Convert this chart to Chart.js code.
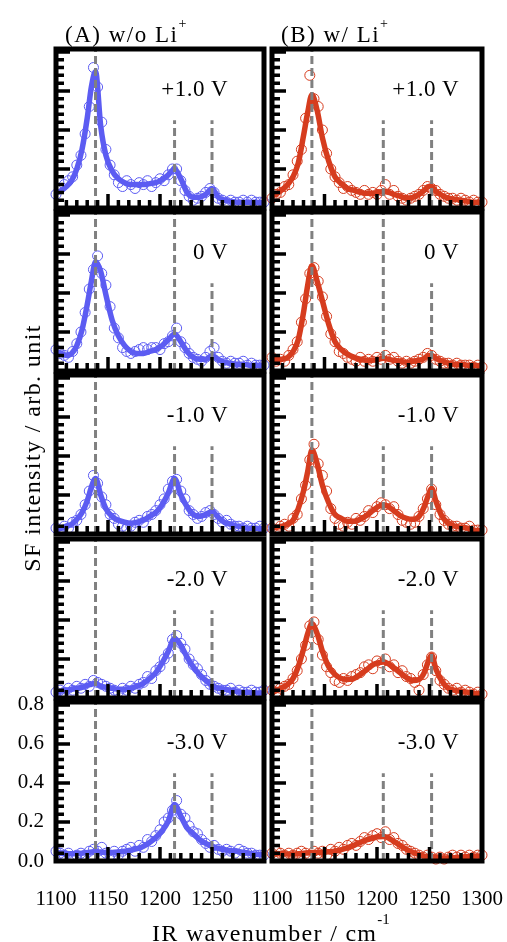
<!DOCTYPE html>
<html>
<head>
<meta charset="utf-8">
<script src="https://cdn.jsdelivr.net/npm/chart.js@4.4.1/dist/chart.umd.min.js"></script>
<style>
  body { margin: 0; background: #fff; }
  #wrap { position: relative; width: 507px; height: 942px; overflow: hidden;
          font-family: 'Liberation Serif', 'Times New Roman', serif; color: #000; }
  #wrap canvas { position: absolute; left: 0; top: 0; }
  .lbl { position: absolute; white-space: nowrap; }
  sup { line-height: 0; }
</style>
</head>
<body>
<div id="wrap"></div>
<script>
// wavenumber grids (cm-1)
const scatterX = [
  1100, 1104, 1108, 1112, 1116, 1120, 1124, 1128, 1132, 1136,
  1140, 1144, 1148, 1152, 1156, 1160, 1164, 1168, 1172, 1176,
  1180, 1184, 1188, 1192, 1196, 1200, 1204, 1208, 1212, 1216,
  1220, 1224, 1228, 1232, 1236, 1240, 1244, 1248, 1252, 1256,
  1260, 1264, 1268, 1272, 1276, 1280, 1284, 1288, 1292, 1296,
  1300
]
const fitXA = [1100, 1105, 1110, 1115, 1120, 1125, 1130, 1134, 1138, 1143, 1148, 1154, 1160, 1166, 1172, 1178, 1184, 1190,
  1196, 1202, 1208, 1214, 1220, 1226, 1232, 1238, 1244, 1250, 1256, 1262, 1268, 1274, 1280, 1286, 1292, 1300]
const fitXB = [1100, 1105, 1110, 1115, 1120, 1125, 1130, 1134, 1138, 1143, 1148, 1154, 1160, 1166, 1172, 1178, 1184, 1190,
  1196, 1201, 1206, 1211, 1216, 1222, 1228, 1234, 1240, 1245, 1249, 1252, 1256, 1262, 1268, 1274, 1280, 1286, 1292, 1300]

const voltLabels = ['+1.0 V', '0 V', '-1.0 V', '-2.0 V', '-3.0 V']
const xTicksA = [1100, 1150, 1200, 1250]
const xTicksB = [1100, 1150, 1200, 1250, 1300]
const yTicks = [0, 0.2, 0.4, 0.6, 0.8]

// peak positions marked by dashed lines, and how high each line reaches
const dashA = [1138, 1214, 1250]
const dashB = [1138, 1206, 1252]
const dashTop = [
  [0.815, 0.45, 0.45],
  [0.815, 0.815, 0.45],
  [0.815, 0.45, 0.45],
  [0.815, 0.45, 0.45],
  [0.815, 0.45, 0.45]
]

// (A) w/o Li+ : fitted curves
const fitA1 = [.075, .09, .11, .14, .20, .30, .46, .62, .70, .42, .27, .19, .15, .13, .12, .12, .12, .125,
  .13, .145, .17, .20, .15, .08, .055, .055, .07, .10, .055, .04, .035, .03, .03, .03, .03, .025]
const fitA2 = [.10, .09, .08, .09, .13, .21, .34, .46, .56, .51, .39, .26, .18, .13, .10, .09, .09, .10,
  .11, .13, .16, .19, .15, .10, .07, .06, .06, .08, .06, .045, .04, .035, .035, .03, .03, .03]
const fitA3 = [.02, .03, .04, .05, .075, .11, .17, .24, .285, .20, .13, .09, .07, .06, .055, .06, .07, .09,
  .11, .15, .21, .285, .20, .14, .10, .09, .10, .115, .085, .06, .05, .04, .035, .03, .03, .025]
const fitA4 = [.03, .035, .04, .045, .05, .055, .065, .07, .075, .06, .055, .05, .045, .045, .05, .06, .075, .10,
  .13, .18, .24, .305, .27, .21, .16, .12, .09, .065, .05, .045, .04, .035, .03, .03, .025, .025]
const fitA5 = [.045, .04, .038, .037, .038, .04, .043, .046, .048, .046, .044, .044, .046, .05, .055, .063, .075, .095,
  .12, .155, .205, .29, .23, .17, .14, .11, .09, .075, .065, .058, .053, .05, .045, .04, .035, .03]

// (B) w/ Li+ : fitted curves
const fitB1 = [.06, .075, .095, .12, .16, .23, .37, .49, .58, .50, .36, .24, .16, .125, .10, .09, .08, .075,
  .075, .08, .085, .08, .07, .06, .05, .055, .07, .09, .11, .11, .085, .065, .05, .045, .04, .035, .03, .03]
const fitB2 = [.065, .06, .06, .07, .10, .16, .30, .44, .54, .46, .36, .24, .15, .11, .085, .07, .06, .055,
  .055, .06, .065, .06, .055, .05, .045, .05, .055, .065, .08, .08, .065, .05, .04, .035, .035, .03, .03, .025]
const fitB3 = [.03, .035, .04, .05, .07, .13, .22, .32, .43, .36, .25, .16, .10, .08, .065, .065, .075, .095,
  .12, .14, .15, .14, .12, .095, .08, .075, .09, .14, .20, .235, .17, .09, .055, .04, .035, .03, .02, .015]
const fitB4 = [.03, .04, .055, .07, .10, .16, .25, .33, .38, .33, .24, .16, .12, .10, .095, .10, .12, .145,
  .17, .18, .185, .175, .155, .13, .105, .09, .095, .13, .19, .22, .15, .085, .05, .04, .035, .03, .025, .02]
const fitB5 = [.04, .038, .037, .036, .036, .037, .04, .041, .043, .044, .045, .047, .05, .058, .068, .08, .095, .108,
  .118, .124, .125, .118, .10, .08, .06, .045, .033, .025, .022, .02, .018, .015, .015, .017, .02, .022, .024, .026]

// measured points
const ptsA1 = [
  .07, .10, .12, .14, .16, .22, .27, .38, .52, .72,
  .62, .44, .30, .22, .17, .13, .11, .14, .12, .10,
  .13, .12, .14, .11, .13, .15, .14, .17, .20, .20,
  .14, .09, .06, .04, .05, .06, .08, .10, .08, .05,
  .04, .03, .04, .03, .03, .04, .03, .04, .03, .03,
  .03]
const ptsA2 = [
  .11, .09, .08, .07, .10, .14, .20, .30, .42, .52,
  .59, .50, .44, .33, .22, .17, .12, .10, .09, .10,
  .11, .12, .11, .12, .12, .11, .14, .15, .18, .22,
  .15, .12, .09, .07, .06, .05, .07, .10, .12, .07,
  .05, .04, .05, .04, .04, .05, .03, .04, .03, .03,
  .03]
const ptsA3 = [
  .03, .02, .04, .03, .06, .07, .10, .15, .22, .30,
  .26, .19, .15, .10, .08, .05, .04, .03, .04, .06,
  .07, .06, .09, .10, .12, .15, .18, .23, .27, .28,
  .22, .18, .12, .10, .08, .09, .11, .12, .10, .08,
  .06, .07, .05, .04, .04, .03, .04, .03, .03, .04,
  .03]
const ptsA4 = [
  .03, .04, .03, .05, .04, .06, .05, .07, .06, .09,
  .08, .07, .06, .05, .04, .03, .05, .04, .06, .05,
  .07, .08, .11, .10, .14, .16, .20, .23, .30, .32,
  .28, .25, .20, .17, .15, .12, .09, .07, .06, .05,
  .04, .04, .05, .03, .04, .03, .03, .04, .03, .03,
  .04]
const ptsA5 = [
  .05, .04, .03, .04, .02, .03, .04, .03, .05, .06,
  .05, .07, .04, .03, .05, .03, .05, .06, .07, .05,
  .08, .07, .11, .10, .13, .16, .20, .22, .26, .31,
  .24, .22, .18, .15, .14, .11, .09, .07, .08, .06,
  .05, .06, .05, .04, .06, .05, .04, .04, .03, .03,
  .03]
const ptsB1 = [
  .05, .07, .08, .11, .12, .17, .24, .30, .46, .68,
  .56, .52, .40, .28, .20, .16, .13, .10, .11, .09,
  .08, .07, .09, .07, .08, .07, .09, .12, .07, .09,
  .06, .05, .04, .05, .06, .07, .09, .11, .10, .09,
  .07, .06, .05, .05, .04, .05, .04, .03, .04, .03,
  .03]
const ptsB2 = [
  .07, .05, .06, .05, .08, .11, .15, .25, .37, .50,
  .53, .46, .38, .28, .19, .15, .10, .09, .07, .06,
  .05, .07, .05, .06, .05, .07, .06, .08, .06, .07,
  .05, .04, .05, .04, .05, .06, .07, .09, .08, .06,
  .05, .04, .04, .03, .04, .03, .03, .03, .02, .03,
  .02]
const ptsB3 = [
  .03, .02, .04, .05, .04, .08, .10, .18, .25, .38,
  .46, .36, .30, .22, .13, .08, .05, .04, .06, .05,
  .08, .07, .09, .12, .11, .14, .16, .15, .13, .14,
  .10, .07, .06, .05, .06, .09, .13, .18, .23, .15,
  .10, .07, .05, .04, .04, .03, .03, .04, .02, .02,
  .02]
const ptsB4 = [
  .04, .03, .05, .06, .07, .10, .14, .20, .27, .37,
  .39, .30, .22, .16, .13, .09, .08, .10, .09, .11,
  .12, .13, .16, .17, .15, .19, .18, .20, .16, .17,
  .13, .14, .11, .10, .08, .04, .12, .17, .21, .14,
  .09, .07, .05, .04, .05, .03, .04, .03, .02, .03,
  .02]
const ptsB5 = [
  .04, .05, .04, .03, .04, .03, .04, .05, .04, .03,
  .05, .04, .05, .03, .06, .05, .07, .06, .08, .09,
  .08, .10, .12, .11, .13, .14, .12, .15, .11, .12,
  .09, .08, .06, .05, .04, .03, .02, .03, .02, .01,
  .02, .01, .02, .03, .02, .03, .02, .03, .02, .03,
  .03]

const fitA = [fitA1, fitA2, fitA3, fitA4, fitA5]
const fitB = [fitB1, fitB2, fitB3, fitB4, fitB5]
const ptsA = [ptsA1, ptsA2, ptsA3, ptsA4, ptsA5]
const ptsB = [ptsB1, ptsB2, ptsB3, ptsB4, ptsB5]

// page layout (px)
const W = 507, H = 942
const colLeft = [56, 272], colRight = [264, 482]
const rowTop = [49, 212, 375, 539, 702], panelH = 159
const FONT = 'Liberation Serif'
const blue = '#5c5cf2', red = '#d63c1e'

const wrap = document.getElementById('wrap')

// thick frame + inward ticks
const framePlugin = {
  id: 'frame',
  afterDatasetsDraw(chart) {
    const { ctx, chartArea: a, scales: { x, y } } = chart
    ctx.save()
    ctx.strokeStyle = '#000'
    ctx.lineWidth = 3.5
    ctx.beginPath()
    for (let i = 1; i <= 20; i++) {
      const py = y.getPixelForValue(i * 0.04)
      ctx.moveTo(a.left, py)
      ctx.lineTo(a.left + (i % 5 === 0 ? 14 : 8), py)
    }
    for (let i = 1; i < 20; i++) {
      const px = x.getPixelForValue(1100 + i * 10)
      ctx.moveTo(px, a.bottom)
      ctx.lineTo(px, a.bottom - (i % 5 === 0 ? 14 : 8))
    }
    ctx.stroke()
    ctx.lineWidth = 5
    ctx.strokeRect(a.left, a.top, a.right - a.left, a.bottom - a.top)
    ctx.restore()
  }
}

// keep the plot box fixed: no extra room for overhanging tick labels
function noOverhang(s) {
  s.paddingLeft = 0
  s.paddingRight = 0
  s.paddingTop = 0
  s.paddingBottom = 0
}

function makePanel(c, r) {
  const cv = document.createElement('canvas')
  cv.width = W
  cv.height = H
  wrap.appendChild(cv)

  const showX = r === 4
  const showY = r === 4 && c === 0
  const fx = c === 0 ? fitXA : fitXB
  const fy = (c === 0 ? fitA : fitB)[r]
  const py = (c === 0 ? ptsA : ptsB)[r]
  const color = c === 0 ? blue : red
  const dash = c === 0 ? dashA : dashB

  const datasets = dash.map((v, i) => ({
    data: [{ x: v, y: 0 }, { x: v, y: dashTop[r][i] }],
    showLine: true,
    borderColor: '#808080',
    borderWidth: 3,
    borderDash: [8, 4],
    pointRadius: 0
  }))
  datasets.push({
    data: fx.map((x, i) => ({ x, y: fy[i] })),
    showLine: true,
    borderColor: color,
    borderWidth: 5.5,
    pointRadius: 0,
    cubicInterpolationMode: 'monotone'
  })
  datasets.push({
    data: scatterX.map((x, i) => ({ x, y: py[i] })),
    showLine: false,
    borderColor: color,
    backgroundColor: 'rgba(0,0,0,0)',
    pointRadius: 5,
    pointBorderWidth: 1,
    clip: 8
  })

  new Chart(cv, {
    type: 'scatter',
    data: { datasets },
    options: {
      responsive: false,
      animation: false,
      devicePixelRatio: 1,
      layout: {
        padding: {
          left: colLeft[c] - (showY ? 45 : 0),
          right: W - colRight[c],
          top: rowTop[r],
          bottom: H - (rowTop[r] + panelH) - (showX ? 60 : 0)
        }
      },
      plugins: { legend: { display: false }, tooltip: { enabled: false } },
      scales: {
        x: {
          type: 'linear', min: 1100, max: 1300, display: showX,
          afterFit: showX ? (s => { s.height = 60; noOverhang(s) }) : undefined,
          afterBuildTicks: s => { s.ticks = (c === 0 ? xTicksA : xTicksB).map(v => ({ value: v })) },
          grid: { display: false, drawTicks: false },
          border: { display: false },
          ticks: { padding: 26, color: '#000', font: { family: FONT, size: 21 }, maxRotation: 0, autoSkip: false,
                   callback: v => String(v) }
        },
        y: {
          type: 'linear', min: 0, max: 0.815, display: showY,
          afterFit: showY ? (s => { s.width = 45; noOverhang(s) }) : undefined,
          afterBuildTicks: s => { s.ticks = yTicks.map(v => ({ value: v })) },
          grid: { display: false, drawTicks: false },
          border: { display: false },
          ticks: { padding: 12, color: '#000', font: { family: FONT, size: 21 }, autoSkip: false,
                   callback: v => v.toFixed(1) }
        }
      }
    },
    plugins: [framePlugin]
  })
}

for (let r = 0; r < 5; r++) {
  makePanel(0, r)
  makePanel(1, r)
}

function addText(html, style) {
  const d = document.createElement('div')
  d.className = 'lbl'
  d.innerHTML = html
  Object.assign(d.style, style)
  wrap.appendChild(d)
  return d
}

// voltage labels
const labelRight = [228, 459]
for (let r = 0; r < 5; r++) {
  for (let c = 0; c < 2; c++) {
    addText(voltLabels[r], {
      left: (labelRight[c] - 200) + 'px', width: '200px', textAlign: 'right',
      top: (rowTop[r] + 28) + 'px', fontSize: '23px', lineHeight: '23px', letterSpacing: '0.5px'
    })
  }
}

// column headers
addText('(A) w/o Li<sup style="font-size:14px;vertical-align:14px;letter-spacing:0">+</sup>', {
  left: '65px', top: '23px', fontSize: '23px', lineHeight: '23px', letterSpacing: '1.5px'
})
addText('(B) w/ Li<sup style="font-size:14px;vertical-align:14px;letter-spacing:0">+</sup>', {
  left: '281px', top: '23px', fontSize: '23px', lineHeight: '23px', letterSpacing: '1.5px'
})

// axis titles
addText('IR wavenumber / cm<sup style="font-size:15px;vertical-align:17px;letter-spacing:0">-1</sup>', {
  left: '152px', top: '919px', fontSize: '24px', lineHeight: '24px', letterSpacing: '1.3px'
})
addText('SF intensity / arb. unit', {
  left: '-118px', top: '436px', width: '300px', height: '24px', textAlign: 'center',
  fontSize: '24px', lineHeight: '24px', letterSpacing: '1.4px', transform: 'rotate(-90deg)'
})
</script>
</body>
</html>
